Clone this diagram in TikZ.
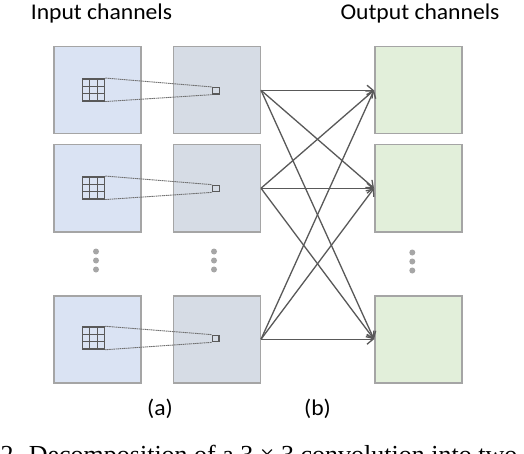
\documentclass[tikz,border=0pt]{standalone}
\usepackage{fontspec}
\setmainfont{Carlito}
\newfontfamily\capfont{Liberation Serif}
\usetikzlibrary{arrows.meta,calc}
\definecolor{inblue}{HTML}{DAE3F3}
\definecolor{midgray}{HTML}{D6DCE5}
\definecolor{outgreen}{HTML}{E2EFDA}
\definecolor{edgegray}{HTML}{A5A5A5}
\definecolor{darkline}{HTML}{595959}
\definecolor{dotgray}{HTML}{A6A6A6}
\definecolor{rfgray}{HTML}{6F6F6F}
\tikzset{
  chan/.style={draw=edgegray, line width=1.5pt, minimum size=87pt, inner sep=0pt, anchor=north west},
  kernel/.style={draw=darkline, line width=1.5pt, minimum size=22pt, inner sep=0pt,
    path picture={
      \foreach \t in {1,2}{
        \draw[darkline, line width=0.8pt]
          ($(path picture bounding box.north west)!\t/3!(path picture bounding box.north east)$) --
          ($(path picture bounding box.south west)!\t/3!(path picture bounding box.south east)$);
        \draw[darkline, line width=0.8pt]
          ($(path picture bounding box.north west)!\t/3!(path picture bounding box.south west)$) --
          ($(path picture bounding box.north east)!\t/3!(path picture bounding box.south east)$);
      }}},
  pix/.style={draw=darkline, line width=1.2pt, fill=midgray, minimum size=6.5pt, inner sep=0pt},
  rfline/.style={rfgray, line width=0.9pt, dash pattern=on 1.5pt off 0.6pt},
  conn/.style={darkline, line width=1.3pt, -{Straight Barb[length=6pt,width=10pt,line width=1.3pt]}},
  lbl/.style={font=\fontsize{22.5}{26}\selectfont, inner sep=0pt, anchor=base, xscale=1.05},
  dot/.style={fill=dotgray}
}
\begin{document}
\begin{tikzpicture}[x=1pt,y=-1pt]
\clip (0,0) rectangle (524,454);
\fill[white] (0,0) rectangle (524,454);
% input channels
\node[chan, fill=inblue] (i1) at (53,46) {};
\node[chan, fill=inblue] (i2) at (53,144) {};
\node[chan, fill=inblue] (i3) at (53,295) {};
% depthwise outputs
\node[chan, fill=midgray] (g1) at (172.5,46) {};
\node[chan, fill=midgray] (g2) at (172.5,144) {};
\node[chan, fill=midgray] (g3) at (172.5,295) {};
% output channels
\node[chan, fill=outgreen] (o1) at (374,46) {};
\node[chan, fill=outgreen] (o2) at (374,144) {};
\node[chan, fill=outgreen] (o3) at (374,295) {};
% kernels and pixels
\node[kernel] (k1) at (93.5,89.8) {};
\node[kernel] (k2) at (93.5,187.8) {};
\node[kernel] (k3) at (93.3,338) {};
\node[pix] (p1) at (216,90.8) {};
\node[pix] (p2) at (216,188.5) {};
\node[pix] (p3) at (215.8,338.5) {};
\foreach \n in {1,2,3}{
  \draw[rfline] (k\n.north east) -- (p\n.north west);
  \draw[rfline] (k\n.south east) -- (p\n.south west);
}
% pointwise connections
\foreach \a in {1,2,3}{
  \foreach \b in {1,2,3}{
    \draw[conn] (g\a.east) -- (o\b.west);
  }
}
% ellipsis dots
\foreach \y in {251.5,260.5,269.5}{
  \fill[dot] (96,\y) circle (3pt);
  \fill[dot] (214,\y) circle (3pt);
}
\foreach \y in {252.5,261.5,270.5}{
  \fill[dot] (412.3,\y) circle (3pt);
}
% labels
\node[lbl] (tin) at (101.5,20) {Input channels};
\node[lbl] (tout) at (420,20) {Output channels};
\node[lbl] (la) at (160,415.5) {(a)};
\node[lbl] (lb) at (317.5,415.5) {(b)};
\node[anchor=base west, inner sep=0pt, font=\capfont\fontsize{26}{30}\selectfont] (cap) at (0.5,463) {2. Decomposition of a 3 × 3 convolution into two};
\end{tikzpicture}
\end{document}
